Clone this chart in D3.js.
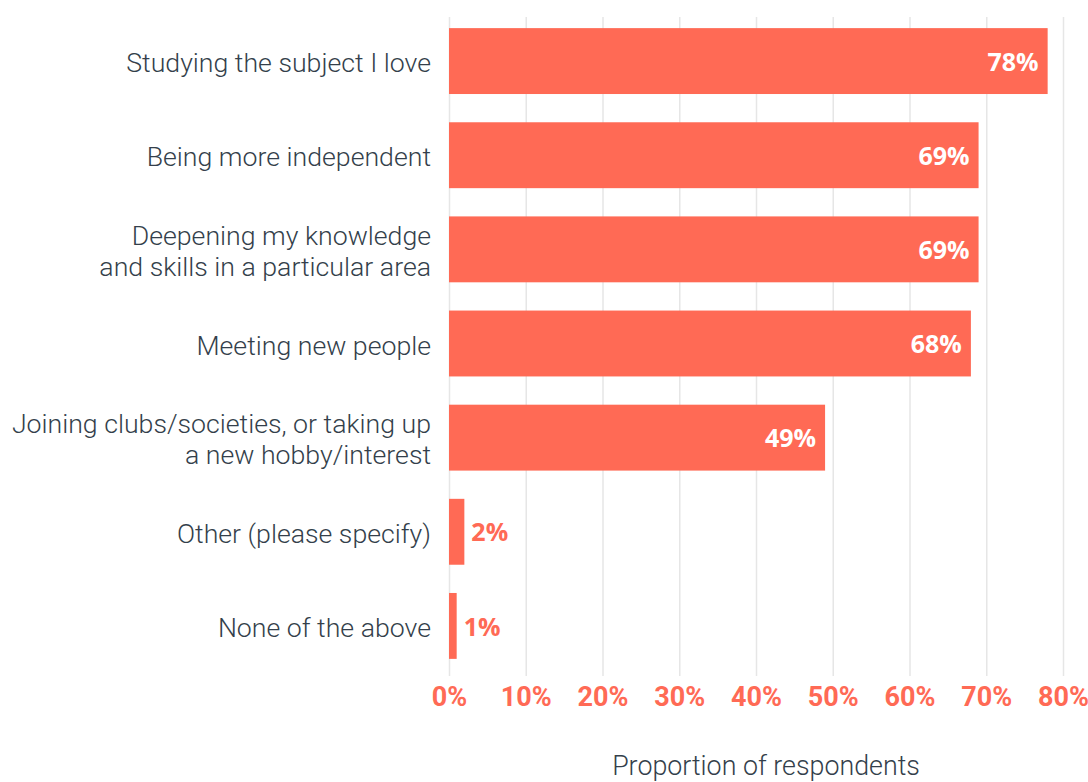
<!DOCTYPE html>
<html>
<head>
<meta charset="utf-8">
<script src="https://cdn.jsdelivr.net/npm/d3@7"></script>
<style>
  html, body { margin: 0; padding: 0; background: #fff; }
  svg { display: block; font-family: Roboto, "Noto Sans", sans-serif; }
</style>
</head>
<body>
<svg id="chart" width="1088" height="782"></svg>
<script>
// Survey responses: what respondents look forward to
const categories = [
  ["Studying the subject I love"],
  ["Being more independent"],
  ["Deepening my knowledge", "and skills in a particular area"],
  ["Meeting new people"],
  ["Joining clubs/societies, or taking up", "a new hobby/interest"],
  ["Other (please specify)"],
  ["None of the above"]
];
const values = [78, 69, 69, 68, 49, 2, 1];
const tickValues = [0, 10, 20, 30, 40, 50, 60, 70, 80];
const axisTitle = "Proportion of respondents";

const barColor = "#FF6A55";
const textColor = "#343F4B";
const gridColor = "#E6E6E6";

const svg = d3.select("#chart");
const margin = { left: 449, right: 24, top: 14, bottom: 109 };
const width = 1088, height = 782;

const rows = categories.map((c, i) => ({ lines: c, value: values[i], key: i }));

const x = d3.scaleLinear()
  .domain([0, 80])
  .range([margin.left, 1063]);

const y = d3.scaleBand()
  .domain(rows.map(d => d.key))
  .range([margin.top, height - margin.bottom])
  .paddingInner(0.3)
  .paddingOuter(0.15);

// vertical grid lines
svg.append("g")
  .selectAll("line")
  .data(tickValues)
  .join("line")
  .attr("x1", d => x(d) + 0.5)
  .attr("x2", d => x(d) + 0.5)
  .attr("y1", 17)
  .attr("y2", 676)
  .attr("stroke", gridColor)
  .attr("stroke-width", 1.5);

// bars
svg.append("g")
  .selectAll("rect")
  .data(rows)
  .join("rect")
  .attr("x", x(0))
  .attr("y", d => y(d.key))
  .attr("width", d => x(d.value) - x(0))
  .attr("height", y.bandwidth())
  .attr("fill", barColor);

// value labels: inside for long bars, outside for short ones
svg.append("g")
  .selectAll("text")
  .data(rows)
  .join("text")
  .each(function (d) {
    const inside = d.value > 10;
    d3.select(this)
      .attr("x", inside ? x(d.value) - 9 : x(d.value) + 7)
      .attr("y", y(d.key) + y.bandwidth() / 2 + 3)
      .attr("text-anchor", inside ? "end" : "start")
      .attr("dominant-baseline", "middle")
      .attr("fill", inside ? "#ffffff" : barColor);
  })
  .attr("font-family", "'Open Sans', 'Noto Sans', sans-serif")
  .attr("font-size", 25)
  .attr("font-weight", 700)
  .text(d => d.value + "%");

// category labels
const catG = svg.append("g");
rows.forEach(d => {
  const n = d.lines.length;
  const lh = 31;
  const cy = y(d.key) + y.bandwidth() / 2 + 4;
  const t = catG.append("text")
    .attr("text-anchor", "end")
    .attr("fill", textColor)
    .attr("font-size", 26.7)
    .attr("font-weight", 300)
    .attr("dominant-baseline", "middle");
  d.lines.forEach((line, j) => {
    t.append("tspan")
      .attr("x", 431)
      .attr("y", cy + (j - (n - 1) / 2) * lh)
      .text(line);
  });
});

// bottom axis tick labels
const xAxis = d3.axisBottom(x)
  .tickValues(tickValues)
  .tickFormat(d => d + "%")
  .tickSize(0)
  .tickPadding(0);

const axG = svg.append("g")
  .attr("transform", `translate(0, 687)`)
  .call(xAxis);
axG.select(".domain").remove();
axG.selectAll("text")
  .attr("font-family", "Roboto, sans-serif")
  .attr("font-size", 27)
  .attr("font-weight", 700)
  .attr("fill", barColor);

// axis title
svg.append("text")
  .attr("x", 766)
  .attr("y", 768)
  .attr("text-anchor", "middle")
  .attr("dominant-baseline", "middle")
  .attr("fill", textColor)
  .attr("font-size", 26.8)
  .attr("font-weight", 300)
  .text(axisTitle);
</script>
</body>
</html>
